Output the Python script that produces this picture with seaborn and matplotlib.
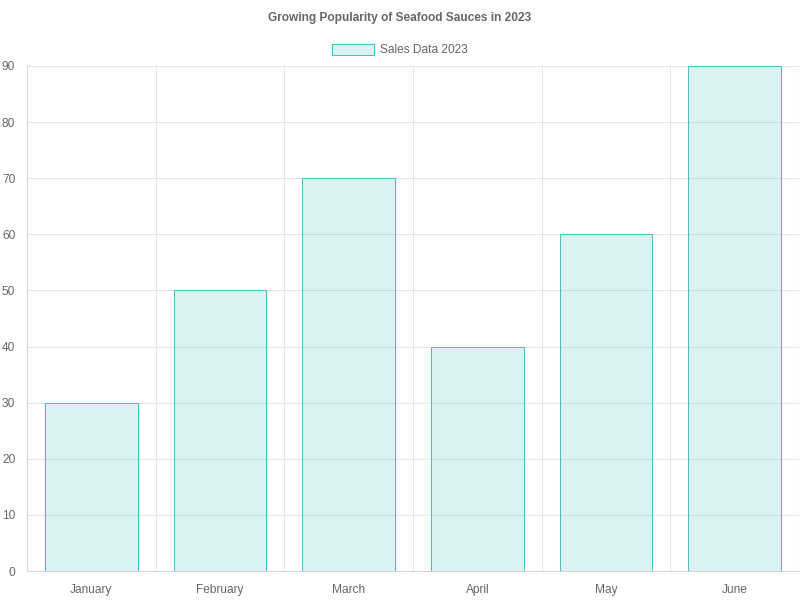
import matplotlib
matplotlib.use('Agg')
import pandas as pd
import matplotlib.pyplot as plt
import seaborn as sns

months = ['January', 'February', 'March', 'April', 'May', 'June']
sales = [30, 50, 70, 40, 60, 90]
series_label = 'Sales Data 2023'
title = 'Growing Popularity of Seafood Sauces in 2023'

df = pd.DataFrame({'month': months, 'sales': sales})

sns.set_style('white')
plt.rcParams['font.family'] = ['Liberation Sans', 'DejaVu Sans']

text_color = '#666666'
grid_color = '#e5e5e5'
fill_color = (75 / 255, 192 / 255, 192 / 255, 0.2)
edge_color = (75 / 255, 192 / 255, 192 / 255, 1.0)
fs = 8.6
lw = 0.75  # one pixel at 100 dpi

fig = plt.figure(figsize=(8, 6), dpi=100)
ax = fig.add_axes([27 / 800, 29 / 600, 772 / 800, 505 / 600])

sns.barplot(data=df, x='month', y='sales', width=0.72, color=fill_color,
            edgecolor=edge_color, linewidth=lw, label=series_label, ax=ax,
            saturation=1, zorder=3)
# keep the alpha on the fill only
for patch in ax.patches:
    patch.set_facecolor(fill_color)
    patch.set_edgecolor(edge_color)

ax.set_xlim(-0.5, len(months) - 0.5)
ax.set_ylim(0, 90)
ax.set_yticks(range(0, 91, 10))
ax.set_xlabel('')
ax.set_ylabel('')

# grid lines between categories, like an offset category axis
ax.set_xticks([i - 0.5 for i in range(len(months) + 1)], minor=True)
ax.tick_params(axis='x', which='major', length=0, pad=9.5, labelsize=fs, labelcolor=text_color)
ax.tick_params(axis='x', which='minor', length=6, width=lw, color=grid_color)
ax.tick_params(axis='y', length=6, width=lw, color=grid_color, pad=2.5, labelsize=fs, labelcolor=text_color)
ax.grid(True, axis='y', color=grid_color, linewidth=lw, zorder=0)
ax.grid(True, axis='x', which='minor', color=grid_color, linewidth=lw, zorder=0)
ax.grid(False, axis='x', which='major')

for side in ['top', 'right']:
    ax.spines[side].set_visible(False)
for side in ['left', 'bottom']:
    ax.spines[side].set_color('#d6d6d6')
    ax.spines[side].set_linewidth(lw)

leg = ax.legend(loc='center', bbox_to_anchor=(0.5, 1 - 50 / 600),
                bbox_transform=fig.transFigure, frameon=False,
                fontsize=fs, handlelength=3.5, handleheight=1.05, handletextpad=0.5,
                labelcolor=text_color)

fig.text(0.5, 1 - 17.5 / 600, title, ha='center', va='center', fontsize=fs,
         fontweight='bold', color=text_color)

fig.savefig('out.png', dpi=100)
